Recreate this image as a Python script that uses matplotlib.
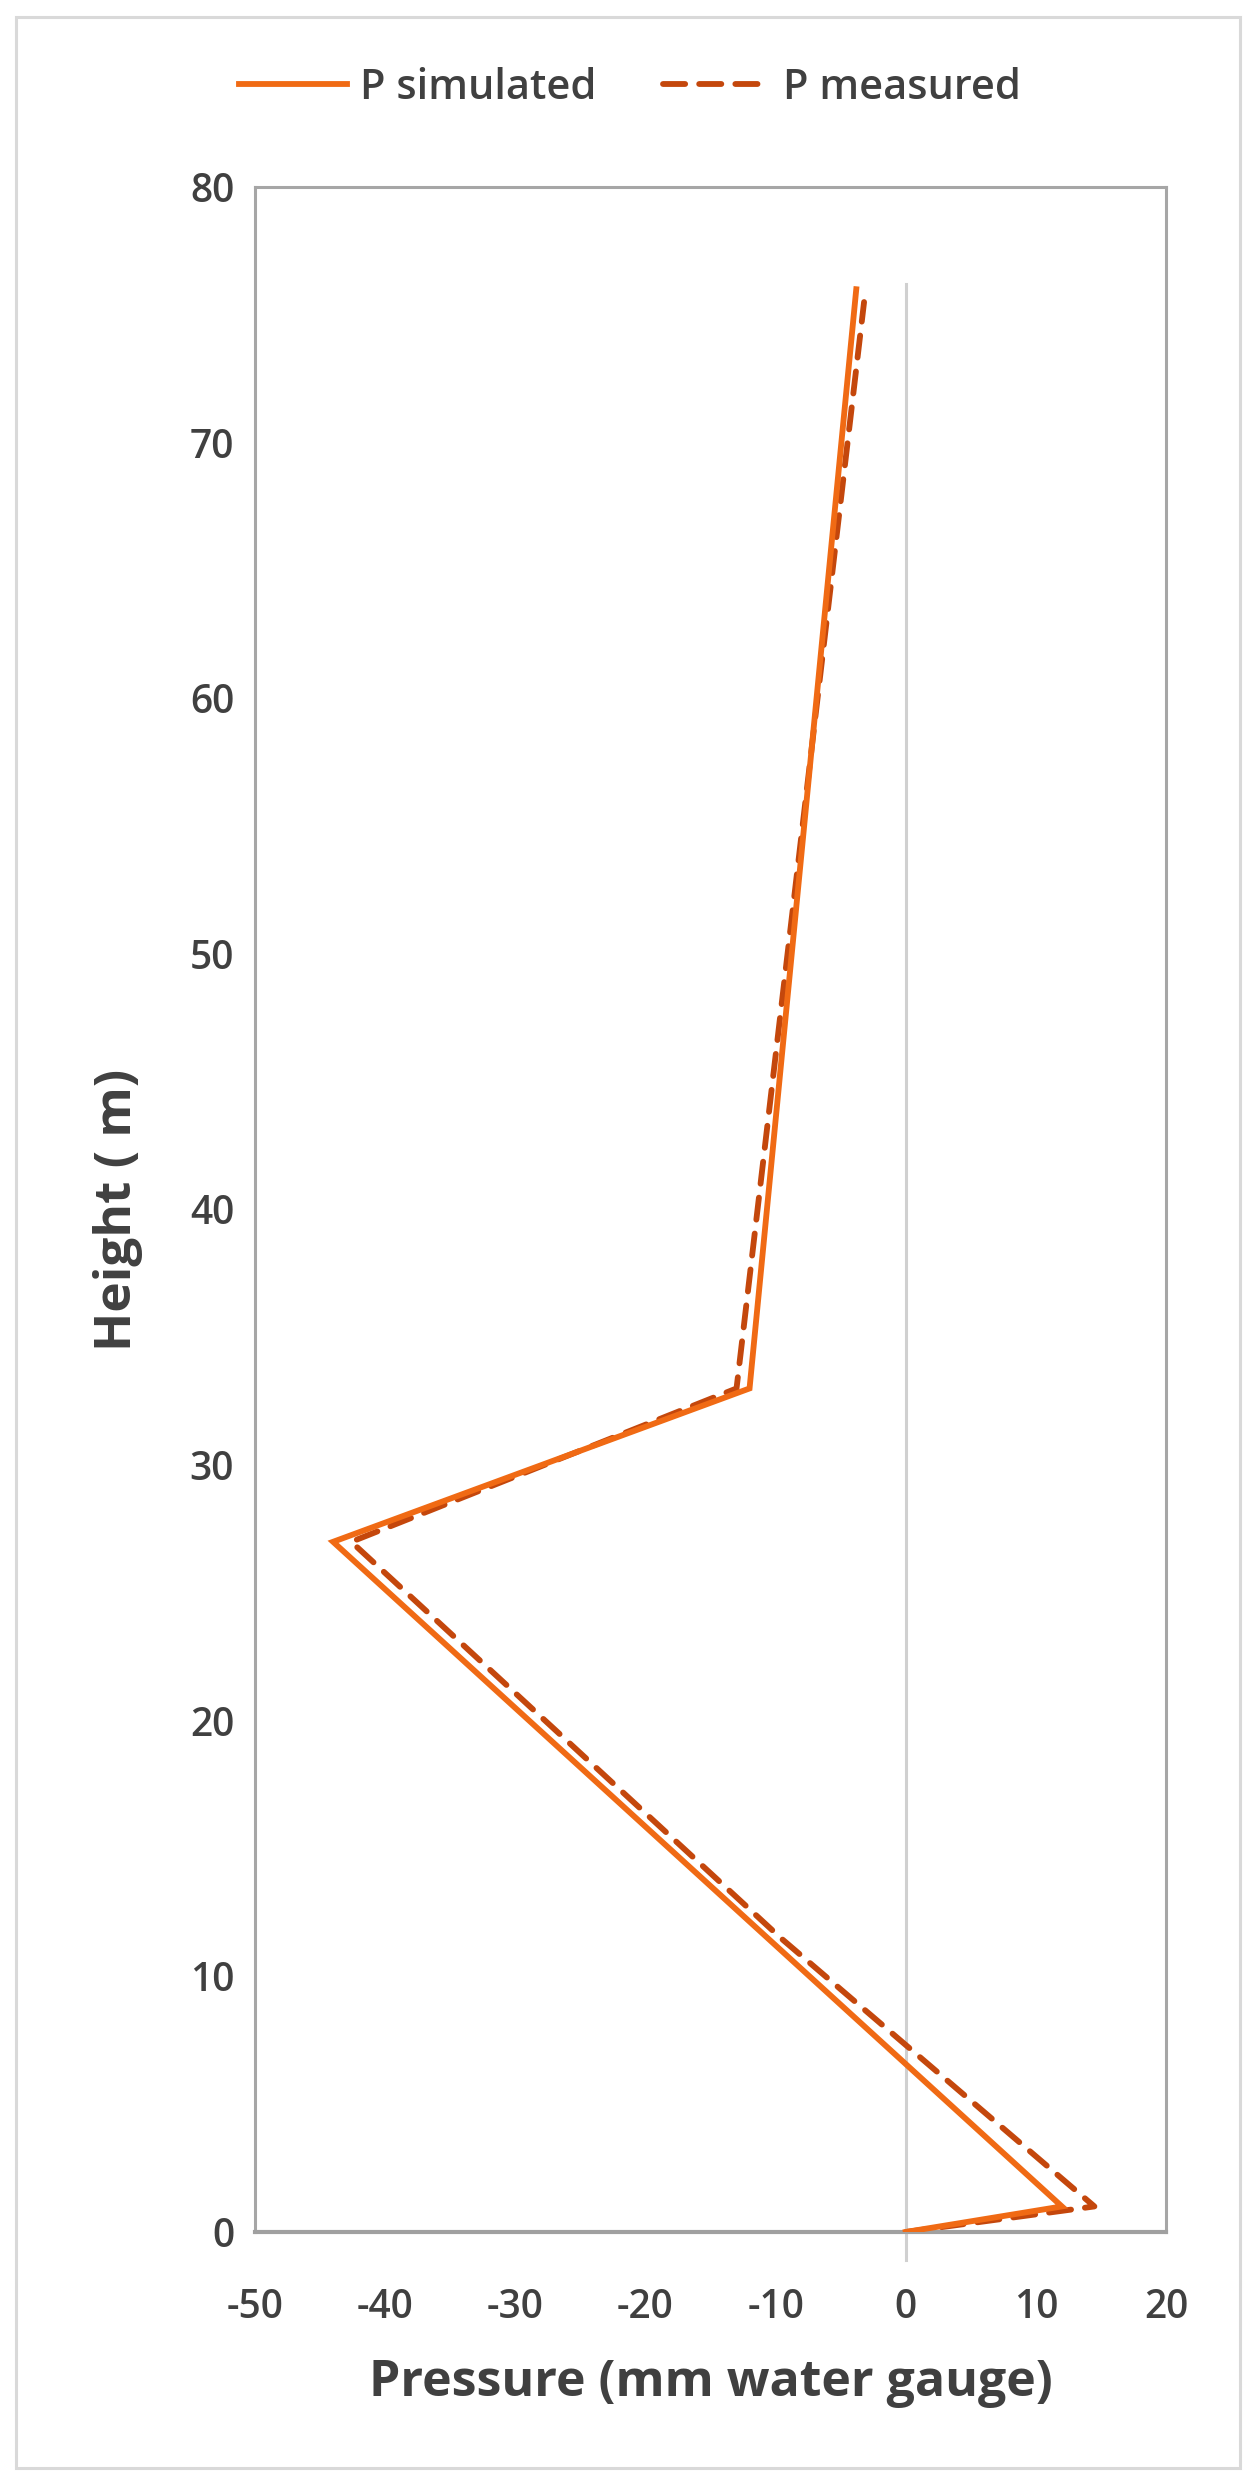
import matplotlib
matplotlib.use("Agg")
import matplotlib.pyplot as plt
from matplotlib.lines import Line2D
from matplotlib.patches import Rectangle

plt.rcParams['font.family'] = ['Open Sans', 'DejaVu Sans']

# Data
height_sim = [0, 1, 27, 33, 76]
pressure_sim = [0, 12, -44, -12, -3.8]
height_meas = [0, 1, 11.5, 27, 33, 75.5]
pressure_meas = [0, 14.5, -9.6, -42.6, -13, -3.2]

x_ticks = [-50, -40, -30, -20, -10, 0, 10, 20]
y_ticks = [0, 10, 20, 30, 40, 50, 60, 70, 80]
zero_line_y = [-1.1, 76.2]

W, H = 1256, 2488
fig = plt.figure(figsize=(W / 100, H / 100), dpi=100)

# outer chart border
fig.patches.append(Rectangle((16 / W, 1 - 2468 / H), (1240 - 16) / W, (2468 - 17) / H,
                             transform=fig.transFigure, fill=False,
                             edgecolor='#D9D9D9', linewidth=2.2))

ax = fig.add_axes([255 / W, 1 - 2232 / H, (1166 - 255) / W, (2232 - 187) / H])
ax.set_xlim(-50, 20)
ax.set_ylim(0, 80)

sim_color = '#F06A14'
meas_color = '#C4470C'
LW = 4.2
DASH = (3.8, 2.4)

ax.plot([0, 0], zero_line_y, color='#D0D0D0', lw=2.2, clip_on=False, zorder=1)

ax.plot(pressure_sim, height_sim, color=sim_color, lw=LW, solid_joinstyle='miter', zorder=3)
ax.plot(pressure_meas, height_meas, color=meas_color, lw=LW, dashes=DASH,
        dash_capstyle='round', zorder=2)

for side in ['top', 'left', 'right']:
    ax.spines[side].set_color('#A6A6A6')
    ax.spines[side].set_linewidth(2.2)
ax.spines['bottom'].set_color('#A0A0A0')
ax.spines['bottom'].set_linewidth(3)

ax.set_xticks(x_ticks)
ax.set_yticks(y_ticks)
ax.set_xticklabels([str(t) for t in x_ticks], fontweight='semibold')
ax.set_yticklabels([str(t) for t in y_ticks], fontweight='semibold')
ax.tick_params(axis='both', length=0, labelsize=28, colors='#404040')
ax.tick_params(axis='x', pad=40)
ax.tick_params(axis='y', pad=15)

ax.set_xlabel('Pressure (mm water gauge)', fontsize=36, fontweight='bold', color='#404040', labelpad=22)
ax.set_ylabel('Height ( m)', fontsize=37, fontweight='bold', color='#404040', labelpad=34)

handles = [Line2D([], [], color=sim_color, lw=LW),
           Line2D([], [], color=meas_color, lw=LW, dashes=DASH, dash_capstyle='round')]
leg = fig.legend(handles, ['P simulated', 'P measured'], loc='center', bbox_to_anchor=(630 / W, 1 - 88 / H),
                 ncol=2, frameon=False, fontsize=30, handlelength=2.6, handletextpad=0.3,
                 columnspacing=1.6, labelcolor='#404040')
for t in leg.get_texts():
    t.set_fontweight('semibold')

fig.savefig('out.png', dpi=100, facecolor='white')
